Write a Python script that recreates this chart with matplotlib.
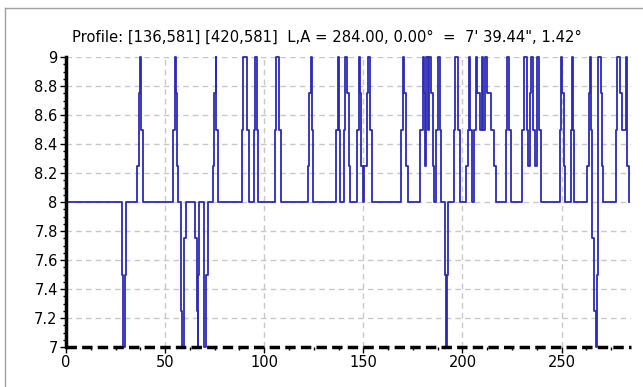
import numpy as np
import matplotlib
matplotlib.use("Agg")
import matplotlib.pyplot as plt
from matplotlib.ticker import MultipleLocator
from matplotlib.lines import Line2D

# profile breakpoints (value holds until next x)
profile_x = [0, 28.1, 28.9, 29.8, 30.5, 36.0, 36.7, 37.4, 38.0, 38.7,
             54.2, 54.9, 55.5, 56.0, 56.6, 58.1, 58.6, 59.3, 60.5,
             65.2, 66.0, 66.5, 66.8, 67.3, 69.4, 70.6, 71.5,
             73.9, 74.7, 75.6, 75.9, 76.6, 88.7, 89.5, 91.2, 92.1,
             94.8, 95.5, 96.1, 97.1, 105.2, 106.1, 107.6, 108.6,
             121.9, 122.7, 123.6, 124.1, 124.6,
             136.2, 137.0, 137.7, 138.4, 140.4, 140.9, 141.8, 142.8, 143.4,
             146.8, 147.6, 148.1, 149.0, 149.8, 150.5, 151.9, 152.4, 153.5, 154.2,
             169.0, 169.9, 170.4, 171.4, 172.4,
             178.8, 180.0, 180.5, 181.3, 181.8, 182.7, 183.3, 184.3, 185.0, 185.5,
             186.4, 187.7, 188.5, 189.4, 191.1, 191.8, 192.3, 192.8,
             195.6, 196.1, 197.8, 198.6,
             201.9, 202.7, 203.2, 204.0, 204.9, 205.7, 206.6, 207.4, 208.6,
             209.6, 210.3, 211.3, 212.5, 214.6, 215.8, 216.7,
             221.7, 222.6, 223.7, 224.7,
             229.8, 231.0, 232.3, 233.0, 234.0, 234.8, 235.7, 236.4, 237.7, 238.5, 239.4,
             249.2, 249.8, 250.3, 251.2, 251.7, 254.5, 255.1, 255.6, 256.2,
             262.6, 263.8, 264.3, 265.0, 265.5, 266.3, 267.2, 267.7, 268.4,
             269.7, 270.5, 271.0,
             277.6, 278.1, 279.5, 280.6, 282.3, 283.2, 284.0]
profile_y = [8, 7.5, 7, 7.5, 8, 8.25, 8.75, 9, 8.5, 8,
             8.5, 9, 8.75, 8.25, 8, 7.25, 7, 7.75, 8,
             7.75, 7.25, 7, 7.5, 8, 7, 7.5, 8,
             8.25, 8.75, 9, 8.5, 8, 8.5, 9, 8.5, 8,
             8.5, 9, 8.5, 8, 8.5, 9, 8.5, 8,
             8.25, 8.75, 9, 8.5, 8,
             8.5, 9, 8.5, 8, 8.5, 9, 8.75, 8.25, 8,
             8.5, 9, 8.75, 8.25, 8, 8.25, 8.75, 9, 8.5, 8,
             8.5, 9, 8.75, 8.25, 8,
             8.5, 9, 8.75, 8.25, 9, 8.5, 9, 8.75, 8.25, 8,
             8.5, 9, 8.5, 8, 7.5, 7, 7.5, 8,
             8.5, 9, 8.5, 8,
             8.25, 8.5, 9, 8.5, 8, 8.5, 9, 8.75, 8.5,
             9, 8.5, 9, 8.75, 8.5, 8.25, 8,
             8.5, 9, 8.5, 8,
             8.5, 9, 8.5, 8.25, 8.75, 9, 8.5, 8.25, 9, 8.5, 8,
             8.5, 9, 8.75, 8.25, 8, 8.5, 9, 8.5, 8,
             8.25, 8.75, 9, 8.5, 7.75, 7.25, 7, 7.5, 9,
             8.75, 8.25, 8,
             8.5, 9, 8.75, 8.5, 9, 8.25, 8]

y_labels = ["7", "7.2", "7.4", "7.6", "7.8", "8", "8.2", "8.4", "8.6", "8.8", "9"]
title = "Profile: [136,581] [420,581]  L,A = 284.00, 0.00°  =  7' 39.44\", 1.42°"

fig = plt.figure(figsize=(6.43, 3.87), dpi=100)
ax = fig.add_axes([66/643, 1 - 347/387, 565/643, 290/387])

ax.plot(profile_x, profile_y, drawstyle="steps-post", color="#2b2bb8",
        linewidth=1.3, clip_on=False, zorder=3)

ax.set_xlim(0, 285)
ax.set_ylim(7, 9)
ax.xaxis.set_major_locator(MultipleLocator(50))
ax.xaxis.set_minor_locator(MultipleLocator(12.5))
ax.yaxis.set_minor_locator(MultipleLocator(0.05))
ax.set_yticks(np.arange(7, 9.01, 0.2))
ax.set_yticklabels(y_labels)

ax.grid(True, which="major", color="#c8c8c8", linestyle=(0, (4, 3)), linewidth=1)
for s in ["top", "right", "bottom"]:
    ax.spines[s].set_visible(False)
ax.spines["left"].set_linewidth(2.5)
ax.spines["left"].set_zorder(4)
ax.axhline(7, color="black", linewidth=2.5, linestyle=(0, (3, 1.5)), clip_on=False, zorder=4)

ax.tick_params(which="major", length=4, width=1, labelsize=10.5, pad=2)
ax.tick_params(which="minor", length=2.5, width=1)

fig.text(0.508, 1 - 37/387, title, ha="center", va="center", fontsize=10.6)

# window frame
fig.add_artist(Line2D([5/643, 5/643], [0, 1 - 8/387], transform=fig.transFigure, color="#a0a0a0", lw=1))
fig.add_artist(Line2D([5/643, 1], [1 - 8/387, 1 - 8/387], transform=fig.transFigure, color="#a0a0a0", lw=1))

fig.savefig("out.png", dpi=100)
